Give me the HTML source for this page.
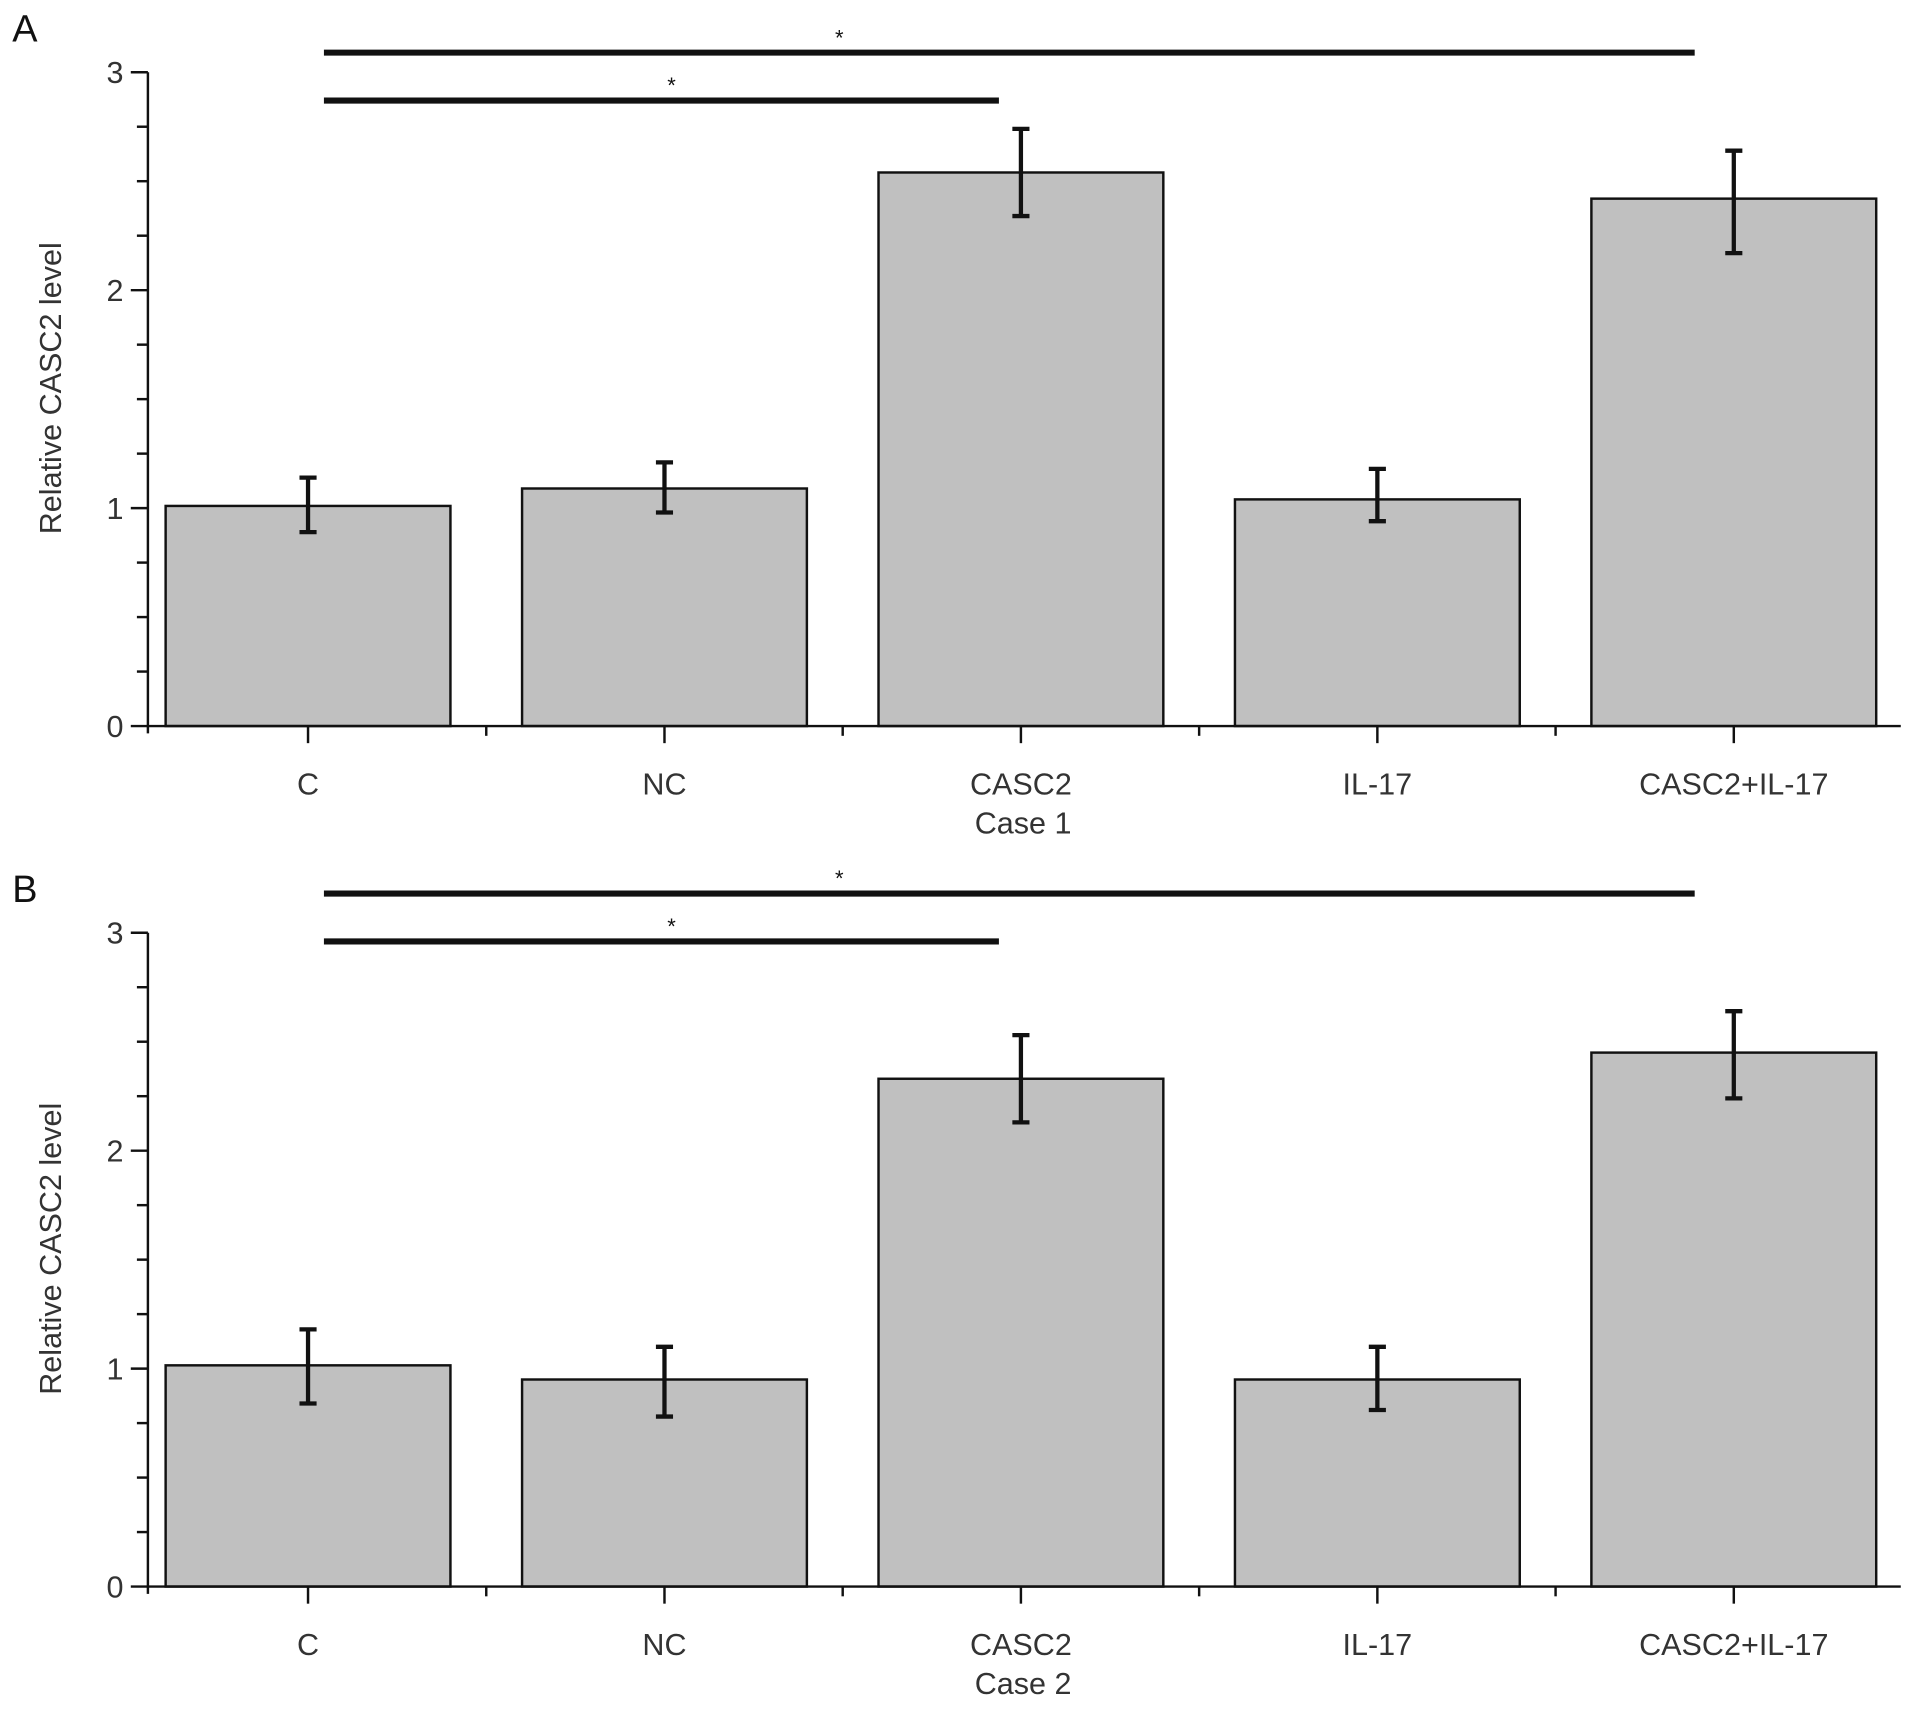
<!DOCTYPE html>
<html><head><meta charset="utf-8"><style>
html,body{margin:0;padding:0;background:#fff;}
svg{display:block;}
text{font-family:"Liberation Sans",sans-serif;fill:#333;}
</style></head>
<body>
<svg id="fig" width="1913" height="1710" viewBox="0 0 1565 1399" preserveAspectRatio="none" xmlns="http://www.w3.org/2000/svg"></svg>
<script>
const categories = ["C","NC","CASC2","IL-17","CASC2+IL-17"];
const yTicks = [0,1,2,3];
const valuesA = [1.01,1.09,2.54,1.04,2.42];
const errHiA = [1.14,1.21,2.74,1.18,2.64];
const errLoA = [0.89,0.98,2.34,0.94,2.17];
const valuesB = [1.015,0.95,2.33,0.95,2.45];
const errHiB = [1.18,1.10,2.53,1.10,2.64];
const errLoB = [0.84,0.78,2.13,0.81,2.24];
const sigFrom = [0,0];
const sigTo = [4,2];
const sigLevelA = [3.09,2.87];
const sigLevelB = [3.18,2.96];
const panelTitles = ["Case 1","Case 2"];

const NS="http://www.w3.org/2000/svg";
const svg=document.getElementById('fig');
function mk(tag,attrs,parent){const e=document.createElementNS(NS,tag);for(const k in attrs)e.setAttribute(k,attrs[k]);(parent||svg).appendChild(e);return e;}

function drawPanel(letter,y0,values,hi,lo,title,sigLevel){
  const g=mk('g',{});
  
  
  const x0=121,x1=1555,unit=178.3;
  const yS=v=>y0-v*unit;
  const step=291.6,first=252,bw=233;
  const xS=i=>first+i*step;
  const L=mk('text',{x:10,y:y0-560,'font-size':31,style:'fill:#111'},g);L.textContent=letter;
  
  
  values.forEach((v,i)=>{
    const r=mk('rect',{x:xS(i)-bw/2,y:yS(v),width:bw,height:yS(0)-yS(v),fill:'#c0c0c0',stroke:'#111','stroke-width':2},g);
    
    
  });
  values.forEach((v,i)=>{
    const eg=mk('g',{stroke:'#111','stroke-width':3.5},g);
    
    
    const cx=xS(i);
    mk('line',{x1:cx,x2:cx,y1:yS(hi[i]),y2:yS(lo[i])},eg);
    mk('line',{x1:cx-7,x2:cx+7,y1:yS(hi[i]),y2:yS(hi[i])},eg);
    mk('line',{x1:cx-7,x2:cx+7,y1:yS(lo[i]),y2:yS(lo[i])},eg);
  });
  const ax=mk('g',{stroke:'#111','stroke-width':2},g);
  
  
  mk('line',{x1:x0,x2:x0,y1:yS(3),y2:yS(0)+6},ax);
  mk('line',{x1:x0-1,x2:x1,y1:yS(0),y2:yS(0)},ax);
  for(let k=0;k<=12;k++){const v=k/4;const len=(k%4===0)?14:9;mk('line',{x1:x0-len,x2:x0,y1:yS(v),y2:yS(v)},ax);}
  categories.forEach((c,i)=>{mk('line',{x1:xS(i),x2:xS(i),y1:yS(0),y2:yS(0)+14},ax);
    if(i<categories.length-1)mk('line',{x1:xS(i)+step/2,x2:xS(i)+step/2,y1:yS(0),y2:yS(0)+8},ax);});
  yTicks.forEach(t=>{const tx=mk('text',{x:x0-20,y:yS(t)+9,'font-size':25,'text-anchor':'end'},g);tx.textContent=t;
    
    });
  categories.forEach((c,i)=>{const tx=mk('text',{x:xS(i),y:yS(0)+56,'font-size':25,'text-anchor':'middle'},g);tx.textContent=c;
    
    });
  const xt=mk('text',{x:837,y:yS(0)+88,'font-size':25,'text-anchor':'middle'},g);xt.textContent=title;
  
  
  const cy=yS(1.55);
  const yt=mk('text',{x:50,y:cy,'font-size':25,'text-anchor':'middle',transform:`rotate(-90 50 ${cy})`},g);yt.textContent='Relative CASC2 level';
  
  
  sigFrom.forEach((f,j)=>{
    const sy=yS(sigLevel[j]);
    const a=xS(f)+13,b=xS(sigTo[j])-(j===0?32:18);
    const sl=mk('line',{x1:a,x2:b,y1:sy,y2:sy,stroke:'#111','stroke-width':5},g);
    
    
    const sx=a+(b-a)*(j===0?0.376:0.515);
    const st=mk('text',{x:sx,y:sy-6,'font-size':18,'text-anchor':'middle',style:'fill:#111'},g);st.textContent='*';
    
    
  });
}
drawPanel('A',594,valuesA,errHiA,errLoA,panelTitles[0],sigLevelA);
drawPanel('B',1298,valuesB,errHiB,errLoB,panelTitles[1],sigLevelB);
</script>
</body></html>
